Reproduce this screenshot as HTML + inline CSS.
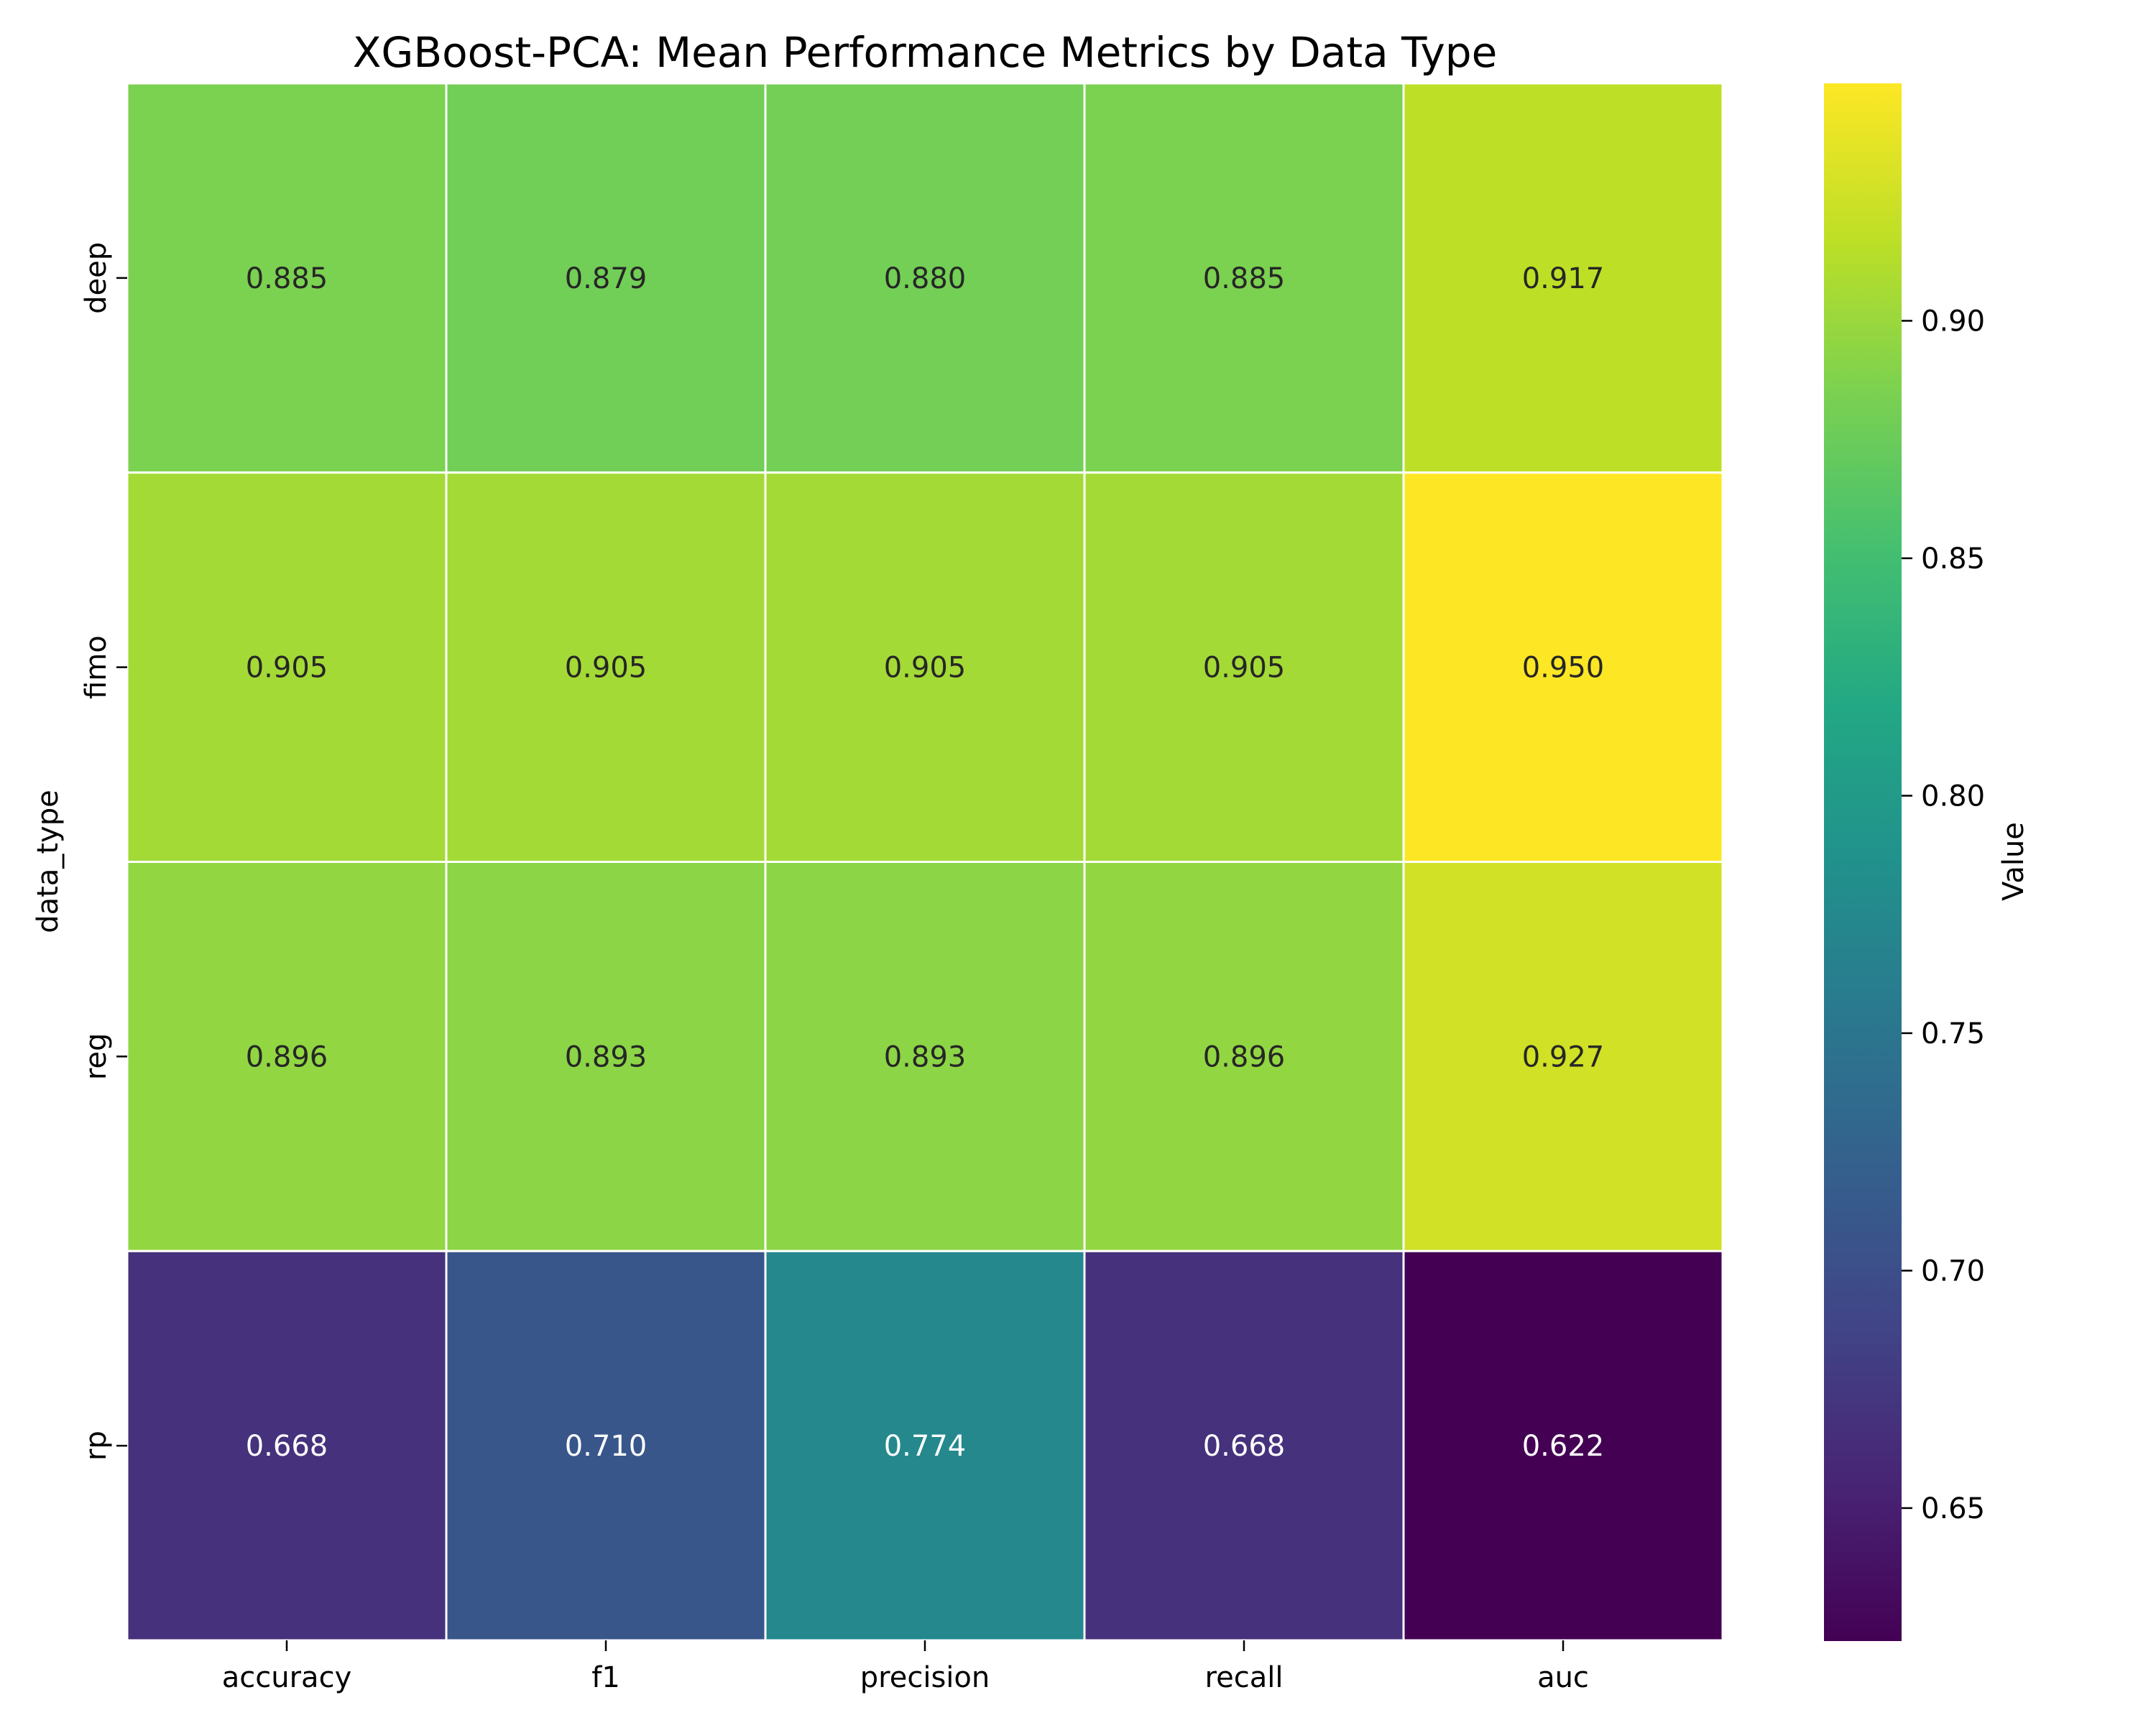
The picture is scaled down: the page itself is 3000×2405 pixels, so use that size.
<!DOCTYPE html>
<html><head><meta charset="utf-8"><style>
html,body{margin:0;padding:0;background:#fff;}
svg text{font-family:"DejaVu Sans","Liberation Sans",sans-serif;}
</style></head><body>
<svg id="chart" width="3000" height="2400" viewBox="0 0 3000 2400" xmlns="http://www.w3.org/2000/svg">
<defs><linearGradient id="vir" x1="0" y1="1" x2="0" y2="0"></linearGradient></defs>
<text x="1287" y="93" font-size="58" text-anchor="middle">XGBoost-PCA: Mean Performance Metrics by Data Type</text>
<g id="cells"></g>
<g id="axes"></g>
<text transform="translate(80,1199) rotate(-90)" font-size="40" text-anchor="middle">data_type</text>
<text transform="translate(2815,1199) rotate(-90)" font-size="40" text-anchor="middle">Value</text>
</svg>
<script>
const metrics = ["accuracy","f1","precision","recall","auc"];
const dataTypes = ["deep","fimo","reg","rp"];
const rowDeep = [0.885,0.879,0.880,0.885,0.917];
const rowFimo = [0.905,0.905,0.905,0.905,0.950];
const rowReg  = [0.896,0.893,0.893,0.896,0.927];
const rowRp   = [0.668,0.710,0.774,0.668,0.622];
const cbTicks = [0.65,0.70,0.75,0.80,0.85,0.90];
const values = [rowDeep,rowFimo,rowReg,rowRp];

const NS="http://www.w3.org/2000/svg";
const L=177,R=2397,T=116,B=2283;
const all=values.flat();
const vmin=Math.min(...all), vmax=Math.max(...all);
const vir=["#440154","#482475","#414487","#355f8d","#2a788e","#21918c","#22a884","#44bf70","#7ad151","#bddf26","#fde725"];
function hex(h){return [1,3,5].map(i=>parseInt(h.substr(i,2),16));}
function cmap(t){t=Math.max(0,Math.min(1,t));const f=t*10,i=Math.min(9,Math.floor(f)),r=f-i;const a=hex(vir[i]),b=hex(vir[i+1]);const c=a.map((v,k)=>Math.round(v+(b[k]-v)*r));return c;}
function xScale(i){return L+(R-L)/metrics.length*i;}
function yScale(j){return T+(B-T)/dataTypes.length*j;}
const cw=(R-L)/metrics.length, ch=(B-T)/dataTypes.length;
function mk(tag,attrs,parent){const e=document.createElementNS(NS,tag);for(const k in attrs)e.setAttribute(k,attrs[k]);parent.appendChild(e);return e;}
const cells=document.getElementById('cells'), axes=document.getElementById('axes');
values.forEach((row,j)=>row.forEach((v,i)=>{
  const c=cmap((v-vmin)/(vmax-vmin));
  const r=mk('rect',{x:xScale(i),y:yScale(j),width:cw,height:ch,fill:`rgb(${c})`,stroke:'#fff','stroke-width':3},cells);
  
  
  const lum=0.2126*c[0]+0.7152*c[1]+0.0722*c[2];
  const t=mk('text',{x:xScale(i)+cw/2,y:yScale(j)+ch/2+14,'font-size':40,'text-anchor':'middle',fill:lum<128?'#ffffff':'#262626'},cells);
  t.textContent=v.toFixed(3);
  
  
}));
metrics.forEach((m,i)=>{
  const x=xScale(i)+cw/2;
  mk('line',{x1:x,x2:x,y1:B,y2:B+15,stroke:'#000','stroke-width':2.5},axes);
  const t=mk('text',{x:x,y:B+65,'font-size':40,'text-anchor':'middle'},axes);
  t.textContent=m;
  
  
});
dataTypes.forEach((d,j)=>{
  const y=yScale(j)+ch/2;
  mk('line',{x1:L-15,x2:L,y1:y,y2:y,stroke:'#000','stroke-width':2.5},axes);
  const t=mk('text',{transform:`translate(${L-30},${y}) rotate(-90)`,'font-size':40,'text-anchor':'middle'},axes);
  t.textContent=d;
  
  
});
const g=document.getElementById('vir');
vir.forEach((c,k)=>mk('stop',{offset:k/10,'stop-color':c},g));
const CL=2538,CR=2646,CT=116,CB=2284;
const cb=mk('rect',{x:CL,y:CT,width:CR-CL,height:CB-CT,fill:'url(#vir)'},axes);


function cbY(v){return CB-(v-vmin)/(vmax-vmin)*(CB-CT);}
cbTicks.forEach(v=>{
  const y=cbY(v);
  mk('line',{x1:CR,x2:CR+15,y1:y,y2:y,stroke:'#000','stroke-width':2.5},axes);
  const t=mk('text',{x:CR+27,y:y+14,'font-size':40},axes);
  t.textContent=v.toFixed(2);
  
  
});
</script>
</body></html>
